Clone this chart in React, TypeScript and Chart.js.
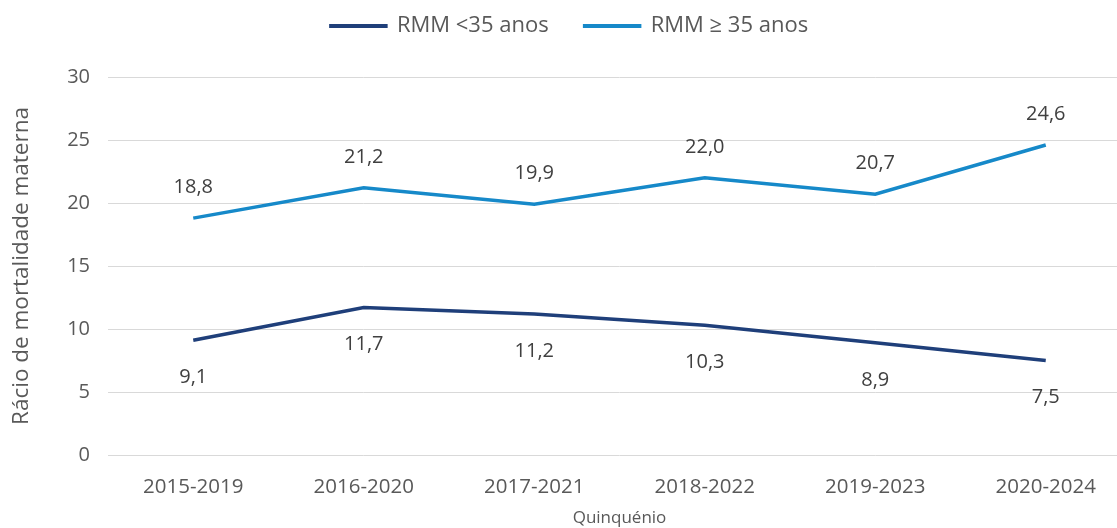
import React, { useEffect, useRef } from "react";
import { Chart, registerables } from "chart.js";

Chart.register(...registerables);

const categories = ["2015-2019", "2016-2020", "2017-2021", "2018-2022", "2019-2023", "2020-2024"];
const under35 = [9.1, 11.7, 11.2, 10.3, 8.9, 7.5];
const over35 = [18.8, 21.2, 19.9, 22.0, 20.7, 24.6];
const seriesNames = ["RMM <35 anos", "RMM ≥ 35 anos"];

const FONT = "'Open Sans', Lato, sans-serif";
const TEXT = "#595959";

const labelPlugin = {
  id: "valueLabels",
  afterLayout(chart: any) {
    if (chart.legend) {
      chart.legend.top -= 30;
      chart.legend.bottom -= 30;
    }
  },
  afterDatasetsDraw(chart: any) {
    const ctx = chart.ctx;
    ctx.save();
    ctx.font = `20px ${FONT}`;
    ctx.fillStyle = "#404040";
    ctx.textAlign = "center";
    ctx.textBaseline = "middle";
    chart.data.datasets.forEach((ds: any, di: number) => {
      const meta = chart.getDatasetMeta(di);
      meta.data.forEach((pt: any, i: number) => {
        const v = ds.data[i] as number;
        const txt = v.toFixed(1).replace(".", ",");
        const dy = di === 0 ? 37 : -31;
        ctx.fillText(txt, pt.x, pt.y + dy);
      });
    });
    ctx.restore();
  },
};

export default function App() {
  const ref = useRef<HTMLCanvasElement>(null);
  useEffect(() => {
    if (!ref.current) return;
    const chart = new Chart(ref.current, {
      type: "line",
      data: {
        labels: categories,
        datasets: [
          {
            label: seriesNames[0],
            data: under35,
            borderColor: "#1F3F7A",
            backgroundColor: "#1F3F7A",
            borderWidth: 3.5,
            pointRadius: 0,
            tension: 0,
          },
          {
            label: seriesNames[1],
            data: over35,
            borderColor: "#1689C9",
            backgroundColor: "#1689C9",
            borderWidth: 3.5,
            pointRadius: 0,
            tension: 0,
          },
        ],
      },
      options: {
        responsive: false,
        animation: false,
        layout: { padding: { left: 8, right: 9, top: 9, bottom: 0 } },
        plugins: {
          legend: {
            position: "top",
            labels: {
              boxWidth: 55,
              boxHeight: 0.5,
              color: TEXT,
              font: { family: FONT, size: 22 },
              padding: 36,
            },
          },
          tooltip: { enabled: false },
        },
        scales: {
          x: {
            offset: true,
            grid: { display: false },
            border: { display: false },
            ticks: { color: TEXT, font: { family: FONT, size: 20.5 }, padding: 12 },
            title: {
              display: true,
              text: "Quinquénio",
              color: TEXT,
              font: { family: FONT, size: 17 },
              padding: { top: 0, bottom: 0 },
            },
            afterFit: (scale: any) => {
              scale.height = 73;
            },
          },
          y: {
            min: 0,
            max: 30,
            ticks: { stepSize: 5, color: TEXT, font: { family: FONT, size: 20 }, padding: 18 },
            grid: { color: "#D9D9D9", lineWidth: 1, drawTicks: false },
            border: { display: false },
            title: {
              display: true,
              text: "Rácio de mortalidade materna",
              color: TEXT,
              font: { family: FONT, size: 22.5 },
              padding: { top: 0, bottom: 4 },
            },
            afterFit: (scale: any) => {
              scale.width = 100;
            },
          },
        },
      },
      plugins: [labelPlugin],
    });
    return () => chart.destroy();
  }, []);
  return (
    <div style={{ position: "fixed", left: 0, top: 0, width: 1117, height: 528, overflow: "hidden", background: "#fff" }}>
      <canvas ref={ref} width={1140} height={528} style={{ width: 1140, height: 528 }} />
    </div>
  );
}
